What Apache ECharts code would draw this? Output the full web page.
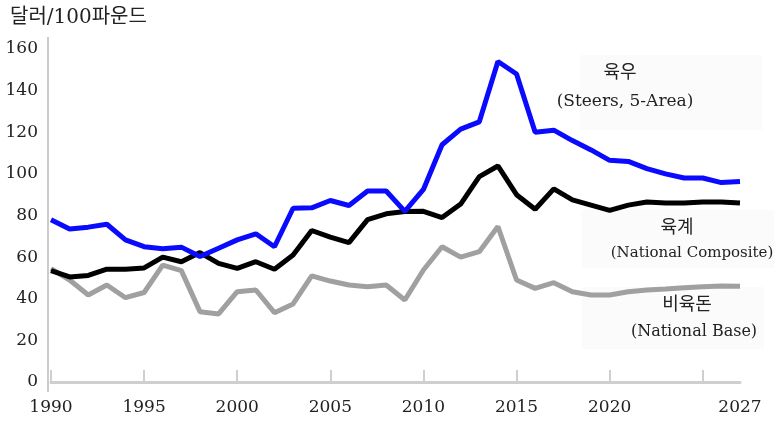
<!DOCTYPE html>
<html><head><meta charset="utf-8">
<script src="https://cdn.jsdelivr.net/npm/echarts@6/dist/echarts.min.js"></script>
<style>html,body{margin:0;padding:0;background:#fff}#c{width:776px;height:422px}</style>
</head><body><div id="c"></div>
<script>
var years = [];
for (var y = 1990; y <= 2027; y++) years.push(String(y));
var tickYears = ['1990','1995','2000','2005','2010','2015','2020','2025'];
var labelYears = ['1990','1995','2000','2005','2010','2015','2020','2027'];
var steers = [78,73.5,74.4,75.8,68.3,65,64,64.8,60.3,64.3,
  68.3,71.2,65,83.5,83.7,87.2,84.8,91.8,91.8,82,
  92.5,114,121.5,125,154,148,120,121,116,111.5,
  106.5,106,102.5,100,98,98,95.8,96.3];
var composite = [53.5,50.5,51.2,54.2,54.2,54.8,60,57.8,62.2,57,
  54.6,57.8,54.2,61,72.8,69.6,67,78,80.8,81.9,
  82,79,85.5,98.7,103.8,90,83,92.8,87.5,85,
  82.5,85,86.5,86,86,86.5,86.5,86];
var base = [54.5,49,41.8,46.6,40.5,43,56.2,53.5,33.8,32.7,
  43.4,44.2,33.3,37.5,51,48.5,46.6,45.8,46.6,39.4,
  53.8,65,60,62.6,74.7,49,45,47.7,43.4,41.8,
  41.8,43.4,44.2,44.7,45.3,45.8,46.1,46];
var unitLabel = '달러/100파운드';
var notes = [
  ['육우', 620, 73, 18], ['(Steers, 5-Area)', 625, 102, 17],
  ['육계', 677, 228, 18], ['(National Composite)', 692, 253, 15],
  ['비육돈', 687, 305, 18], ['(National Base)', 694, 332, 16]
];
var FONT = "'DejaVu Serif', 'Noto Sans CJK KR', serif";
var chart = echarts.init(document.getElementById('c'));
var graphics = [
  {type:'rect', shape:{x:580,y:55,width:182,height:75}, style:{fill:'#fbfbfb'}, z:0},
  {type:'rect', shape:{x:582,y:210,width:192,height:58}, style:{fill:'#fbfbfb'}, z:0},
  {type:'rect', shape:{x:582,y:287,width:182,height:62}, style:{fill:'#fbfbfb'}, z:0},
  {type:'line', shape:{x1:48,y1:37,x2:48,y2:392}, style:{stroke:'#999',lineWidth:1}},
  {type:'text', style:{text:unitLabel, x:10, y:18, textVerticalAlign:'middle', font:"20px "+FONT, fill:'#222'}}
];
notes.forEach(function(n){
  graphics.push({type:'text', z:10, style:{text:n[0], x:n[1], y:n[2], textAlign:'center', textVerticalAlign:'middle', font:n[3]+"px "+FONT, fill:'#222'}});
});
chart.setOption({
  backgroundColor:'#fff',
  animation:false,
  grid:{left:51, right:36, top:49, bottom:40},
  textStyle:{fontFamily:FONT},
  xAxis:{
    type:'category', data:years, boundaryGap:false, offset:4,
    axisLine:{lineStyle:{color:'#cfcfcf', width:3}},
    axisTick:{inside:true, length:12, lineStyle:{color:'#cfcfcf', width:2},
      interval:function(i,v){return tickYears.indexOf(v)>=0;}},
    axisLabel:{fontSize:17, color:'#222', margin:13, fontFamily:FONT,
      interval:function(i,v){return labelYears.indexOf(v)>=0;}},
    splitLine:{show:false}
  },
  yAxis:{
    type:'value', min:0, max:160, interval:20,
    axisLine:{show:false}, axisTick:{show:false}, splitLine:{show:false},
    axisLabel:{fontSize:17, color:'#222', margin:13, fontFamily:FONT}
  },
  series:[
    {type:'line', data:base, symbol:'none', lineStyle:{color:'#a0a0a0', width:5}, z:2},
    {type:'line', data:composite, symbol:'none', lineStyle:{color:'#000', width:5}, z:3},
    {type:'line', data:steers, symbol:'none', lineStyle:{color:'#0a0aff', width:5}, z:4}
  ],
  graphic:graphics
});
</script></body></html>
